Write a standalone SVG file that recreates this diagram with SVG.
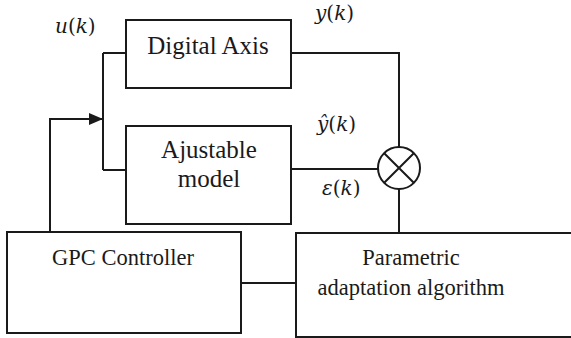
<svg xmlns="http://www.w3.org/2000/svg" width="571" height="338" viewBox="0 0 571 338">
<style>
.box{fill:#fff;stroke:#1a1a1a;stroke-width:2}
.ln{fill:none;stroke:#1a1a1a;stroke-width:2}
.t{font-family:'Liberation Serif','Times New Roman',serif;fill:#1a1a1a;text-anchor:middle}
.big{font-size:25px}
.sm{font-size:22.5px}
.m{font-family:'DejaVu Serif','Liberation Serif',serif;font-size:20px;fill:#1a1a1a}
.i{font-style:italic}
</style>
<defs>
<marker id="arr" markerWidth="14" markerHeight="12" refX="13" refY="6" orient="auto" markerUnits="userSpaceOnUse">
<path d="M0,0 L14,6 L0,12 Z" fill="#1a1a1a"/>
</marker>
</defs>
<rect width="571" height="338" fill="#fff"/>
<g id="connectors">
<path class="ln" d="M103,53 V170"/>
<path class="ln" d="M103,53 H126"/>
<path class="ln" d="M103,170 H126"/>
<path class="ln" d="M50,232 V119 H102" marker-end="url(#arr)"/>
<path class="ln" d="M291,53 H399 V147"/>
<path class="ln" d="M291,169 H378"/>
<path class="ln" d="M399,189 V233"/>
<path class="ln" d="M241,283 H296"/>
</g>
<g id="digital-axis">
<rect class="box" x="126" y="20" width="165" height="68"/>
<text class="t big" x="208" y="54">Digital Axis</text>
</g>
<g id="ajustable-model">
<rect class="box" x="126" y="126" width="165" height="98"/>
<text class="t big" x="209" y="158">Ajustable</text>
<text class="t big" x="209" y="187">model</text>
</g>
<g id="sum">
<circle class="ln" cx="399" cy="168" r="21"/>
<path class="ln" d="M384.2,153.2 L413.8,182.8 M413.8,153.2 L384.2,182.8"/>
</g>
<g id="gpc-controller">
<rect class="box" x="7" y="232" width="234" height="101"/>
<text class="t sm" x="123" y="265">GPC Controller</text>
</g>
<g id="parametric">
<rect class="box" x="296" y="233" width="280" height="104"/>
<text class="t sm" x="411" y="265">Parametric</text>
<text class="t sm" x="411" y="295">adaptation algorithm</text>
</g>
<g id="labels">
<text class="m" x="55" y="33"><tspan class="i">u</tspan>(<tspan class="i">k</tspan>)</text>
<text class="m" x="315" y="20"><tspan class="i">y</tspan>(<tspan class="i">k</tspan>)</text>
<text class="m" x="317" y="131"><tspan class="i">&#375;</tspan>(<tspan class="i">k</tspan>)</text>
<text class="m" x="322" y="195"><tspan class="i">&#949;</tspan>(<tspan class="i">k</tspan>)</text>
</g>
</svg>
